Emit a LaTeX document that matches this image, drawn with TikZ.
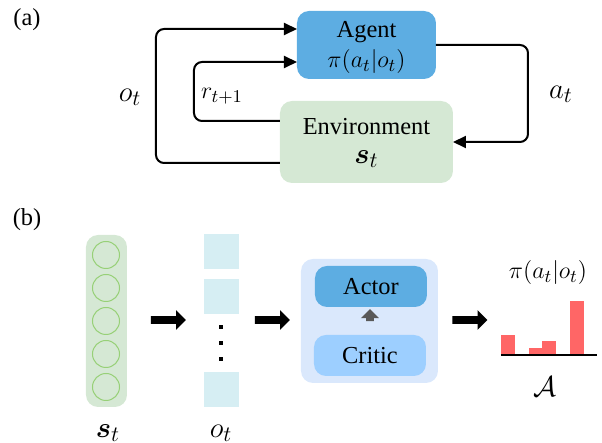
\documentclass[tikz,border=0pt]{standalone}
\usepackage{bm}
\usepackage{fontspec}
\setmainfont{Liberation Serif}
\usetikzlibrary{arrows.meta,shapes.arrows}
\definecolor{agentblue}{RGB}{93,173,226}
\definecolor{envgreen}{RGB}{213,232,212}
\definecolor{circgreen}{RGB}{151,208,119}
\definecolor{obscyan}{RGB}{214,238,243}
\definecolor{outerblue}{RGB}{218,232,252}
\definecolor{criticblue}{RGB}{157,207,255}
\definecolor{barred}{RGB}{255,102,102}
\tikzset{
  txt/.style={font=\fontsize{12.2}{14}\selectfont, inner sep=0pt},
  mlbl/.style={font=\fontsize{13}{15}\selectfont, inner sep=0pt},
  blbl/.style={font=\fontsize{15.5}{18}\selectfont, inner sep=0pt},
  flow/.style={line width=1pt, rounded corners=4pt, -{Triangle[length=6.5pt,width=6pt]}},
  bigarrow/.style={single arrow, fill=black, draw=none, minimum height=17.5pt, single arrow head extend=3pt, single arrow tip angle=90, minimum width=4pt, inner sep=1.7pt},
  rbox/.style={rounded corners=6pt, draw=none},
}
\begin{document}
\begin{tikzpicture}[x=0.5pt,y=-0.5pt]
\useasboundingbox (0,0) rectangle (602,443);
% (a)
\node[txt] (la) at (27,20) {(a)};
\node[rbox, fill=agentblue, minimum width=69.5pt, minimum height=34pt] (agent) at (366.5,45) {};
\node[txt] (agt) at (366.5,32) {Agent};
\node[mlbl] (pol) at (366.5,62) {$\pi(a_t|o_t)$};
\node[rbox, fill=envgreen, minimum width=86.5pt, minimum height=41pt] (env) at (366.5,142) {};
\node[txt] (envt) at (366.5,127) {Environment};
\node[blbl] (st) at (366.5,159) {$\bm{s}_t$};
\coordinate (eo) at (280,163);
\coordinate (er) at (280,121);
\coordinate (ao) at (297,29);
\coordinate (ar) at (297,62);
\coordinate (aa) at (436,45);
\coordinate (ea) at (453,142);
\draw[flow] (eo) -- (156,163) -- (156,29) -- (ao);
\draw[flow] (er) -- (194,121) -- (194,62) -- (ar);
\draw[flow] (aa) -- (528,45) -- (528,142) -- (ea);
\node[blbl] (ot) at (130,97) {$o_t$};
\node[mlbl] (rt) at (222,96) {$r_{t+1}$};
\node[blbl] (at) at (561,94) {$a_t$};
% (b)
\node[txt] (lb) at (27,220) {(b)};
\node[rbox, fill=envgreen, minimum width=20.5pt, minimum height=86pt] (col) at (106.5,321) {};
\foreach \i/\yy in {1/255,2/288,3/321,4/354,5/387}{
  \node[circle, draw=circgreen, line width=0.5pt, minimum size=13.5pt, inner sep=0pt] (c\i) at (106,\yy) {};
}
\node[blbl] (stb) at (108,433) {$\bm{s}_t$};
\node[fill=obscyan, minimum width=17.5pt, minimum height=17.5pt, inner sep=0pt] (o1) at (221.5,251.5) {};
\node[fill=obscyan, minimum width=17.5pt, minimum height=17.5pt, inner sep=0pt] (o2) at (221.5,296.5) {};
\node[fill=obscyan, minimum width=17.5pt, minimum height=17.5pt, inner sep=0pt] (o3) at (221.5,389.5) {};
\foreach \i/\yy in {1/327,2/343,3/359}{
  \node[fill=black, minimum size=2pt, inner sep=0pt] (d\i) at (221,\yy) {};
}
\node[blbl] (otb) at (221,433) {$o_t$};
\node[bigarrow] (ar1) at (166.5,320) {};
\node[bigarrow] (ar2) at (270.5,320) {};
\node[bigarrow] (ar3) at (468,320) {};
\node[rbox, fill=outerblue, minimum width=68.5pt, minimum height=62pt] (ac) at (369.5,321) {};
\node[rbox, fill=agentblue, minimum width=56pt, minimum height=20.5pt] (actor) at (371,286.5) {};
\node[txt] (actt) at (371,287) {Actor};
\node[rbox, fill=criticblue, minimum width=56pt, minimum height=20.5pt] (critic) at (370,355.5) {};
\node[txt] (critt) at (370,356) {Critic};
\node[single arrow, fill=black!65, draw=none, shape border rotate=90, minimum height=6pt, single arrow head extend=2.6pt, single arrow tip angle=90, inner sep=1.7pt] (ga) at (370,317) {};
% bars
\fill[barred] (501,335) rectangle (515,355);
\fill[barred] (529,348) rectangle (542,355);
\fill[barred] (542,341) rectangle (556,355);
\fill[barred] (570,301) rectangle (584,355);
\coordinate (b0) at (501,355);
\coordinate (b1) at (597,355);
\draw[line width=1.3pt] (b0) -- (b1);
\node[mlbl] (pib) at (548,273) {$\pi(a_t|o_t)$};
\node[blbl] (cala) at (545,387) {$\mathcal{A}$};
\end{tikzpicture}
\end{document}
